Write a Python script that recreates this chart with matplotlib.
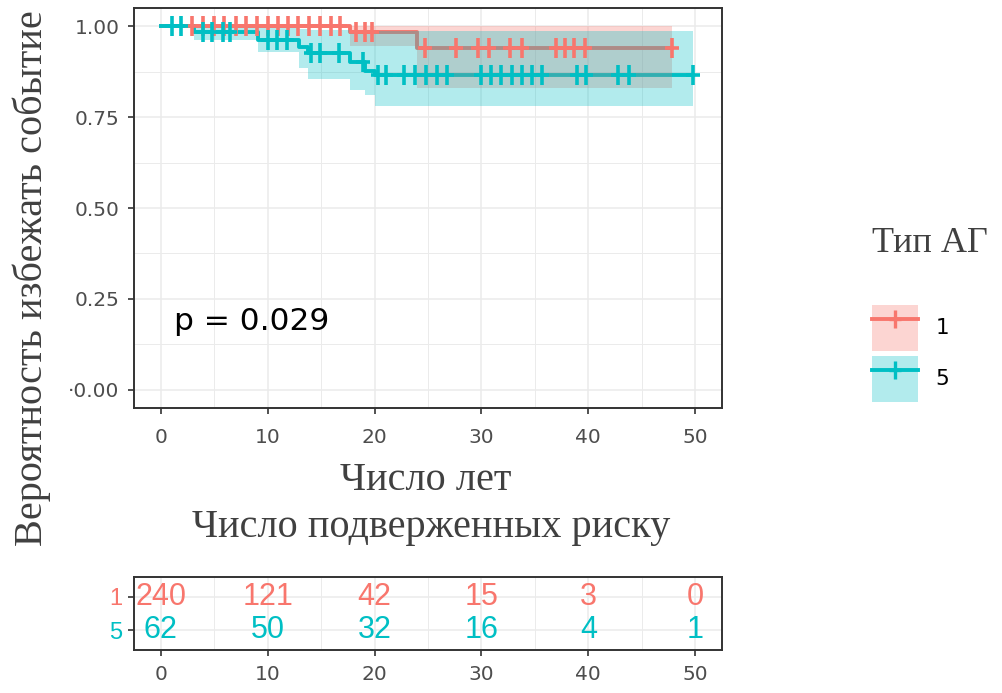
import matplotlib
matplotlib.use('Agg')
import matplotlib.pyplot as plt
from matplotlib.lines import Line2D
from matplotlib.patches import Patch
from matplotlib.path import Path
import numpy as np

# ---- data ----
# group "1"
t1 = [0, 17.7, 24.0, 47.8]
s1 = [1.0, 0.983, 0.940, 0.940]
lo1 = [1.0, 0.945, 0.83, 0.83]
hi1 = [1.0, 1.0, 1.0, 1.0]
cens1 = [2.9, 4.0, 5.0, 5.9, 7.0, 8.0, 9.0, 10.0, 11.0, 11.9, 12.8, 13.9, 14.9, 15.9, 16.8,
         18.3, 19.1, 19.8,
         24.7, 27.6, 29.7, 30.7, 32.7, 33.8, 37.0, 37.8, 38.7, 39.7, 47.8]

# group "5"
t5 = [0, 3.1, 9.1, 12.9, 13.8, 17.7, 19.1, 20.0, 49.8]
s5 = [1.0, 0.985, 0.962, 0.944, 0.925, 0.902, 0.876, 0.866, 0.866]
lo5 = [1.0, 0.962, 0.930, 0.884, 0.856, 0.825, 0.810, 0.780, 0.780]
hi5 = [1.0, 1.0, 0.997, 0.993, 0.990, 0.988, 0.986, 0.986, 0.986]
cens5 = [1.1, 1.9, 4.0, 4.8, 5.8, 6.5, 10.0, 10.9, 11.8, 14.1, 14.9, 16.7, 18.9,
         20.3, 21.1, 22.8, 23.8, 24.8, 25.8, 26.8, 30.0, 30.9, 31.8, 32.9, 33.8, 34.7,
         35.7, 38.9, 39.8, 42.8, 43.8, 49.8]

groups = ['1', '5']
risk_times = [0, 10, 20, 30, 40, 50]
risk1 = [240, 121, 42, 15, 3, 0]
risk5 = [62, 50, 32, 16, 4, 1]
p_text = 'p = 0.029'

RED = '#F8766D'
CYAN = '#00BFC4'
SERIF = 'Liberation Serif'
SANS = 'Liberation Sans'
TXT = '#4D4D4D'

plt.rcParams['font.family'] = ['DejaVu Sans']

plus = Path([(-0.7, 0), (0.7, 0), (0, -1), (0, 1)],
            [Path.MOVETO, Path.LINETO, Path.MOVETO, Path.LINETO])


def surv_at(times, surv, pts):
    idx = np.searchsorted(times, pts, side='right') - 1
    return np.asarray(surv)[idx]


def style_axes(ax):
    for sp in ax.spines.values():
        sp.set_color('#333333')
        sp.set_linewidth(1.4)
    ax.tick_params(direction='out', length=4.5, width=1.2, color='#333333',
                   labelcolor=TXT, labelsize=14.5)
    ax.grid(which='major', color='#EBEBEB', lw=1.1)
    ax.grid(which='minor', color='#EBEBEB', lw=0.7)
    ax.tick_params(which='minor', length=0)
    ax.set_axisbelow(True)


fig = plt.figure(figsize=(10.03, 6.93), dpi=100)
ax = fig.add_axes([134 / 1003, 1 - 408 / 693, 588 / 1003, 400 / 693])
axr = fig.add_axes([134 / 1003, 1 - 650 / 693, 588 / 1003, 73 / 693])

# curves
ax.step(t1, s1, where='post', color=RED, lw=2.8, zorder=2)
ax.step(t5, s5, where='post', color=CYAN, lw=2.8, zorder=2)
# confidence bands
ax.fill_between(t1, lo1, hi1, step='post', color=RED, alpha=0.3, lw=0, zorder=3)
ax.fill_between(t5, lo5, hi5, step='post', color=CYAN, alpha=0.3, lw=0, zorder=3)
# censor marks
ax.plot(cens1, surv_at(t1, s1, cens1), ls='none', marker=plus, ms=14, mew=2.6,
        color=RED, zorder=4)
ax.plot(cens5, surv_at(t5, s5, cens5), ls='none', marker=plus, ms=14, mew=2.6,
        color=CYAN, zorder=4)

ax.set_xlim(-2.5, 52.5)
ax.set_ylim(-0.05, 1.05)
ax.set_xticks(np.arange(0, 51, 10))
ax.set_xticks(np.arange(5, 50, 10), minor=True)
ax.set_yticks([0, 0.25, 0.5, 0.75, 1.0])
ax.set_yticklabels(['·0.00', '0.25', '0.50', '0.75', '1.00'])
ax.set_yticks([0.125, 0.375, 0.625, 0.875], minor=True)
style_axes(ax)
ax.tick_params(axis='x', pad=10)
ax.tick_params(axis='y', pad=6)

ax.text(1.2, 0.188, p_text, fontsize=22.5, color='black', va='center', ha='left')

# risk table
for y, vals, col in [(2, risk1, RED), (1, risk5, CYAN)]:
    for x, v in zip(risk_times, vals):
        axr.text(x, y, str(v), color=col, fontsize=22, family=SANS,
                 ha='center', va='center')
axr.set_xlim(-2.5, 52.5)
axr.set_ylim(0.4, 2.6)
axr.set_xticks(risk_times)
axr.set_xticks(np.arange(5, 50, 10), minor=True)
axr.set_yticks([2, 1])
axr.set_yticklabels(groups)
style_axes(axr)
axr.tick_params(axis='x', pad=6)
axr.tick_params(axis='y', pad=4, labelsize=17)
for lab, col in zip(axr.get_yticklabels(), [RED, CYAN]):
    lab.set_color(col)
    lab.set_family(SANS)

# labels
fig.text(32 / 1003, 1 - 278 / 693, 'Вероятность избежать событие', rotation=90,
         family=SERIF, fontsize=29, color='#404040', ha='center', va='center')
fig.text(426 / 1003, 1 - 481 / 693, 'Число лет', family=SERIF, fontsize=29,
         color='#404040', ha='center', va='center')
fig.text(431 / 1003, 1 - 527 / 693, 'Число подверженных риску', family=SERIF,
         fontsize=29, color='#404040', ha='center', va='center')
fig.text(872 / 1003, 1 - 243 / 693, 'Тип АГ', family=SERIF, fontsize=26,
         color='#404040', ha='left', va='center')

handles = [(Patch(facecolor=RED, alpha=0.3, lw=0),
            Line2D([], [], color=RED, lw=2.8, marker=plus, ms=13, mew=2.4)),
           (Patch(facecolor=CYAN, alpha=0.3, lw=0),
            Line2D([], [], color=CYAN, lw=2.8, marker=plus, ms=13, mew=2.4))]
leg = fig.legend(handles, groups, loc='upper left',
                 bbox_to_anchor=(872 / 1003, 1 - 305 / 693),
                 frameon=False, fontsize=14, handlelength=2.37, handleheight=3.26,
                 handletextpad=0.9, labelspacing=0.26, borderpad=0, borderaxespad=0)
for txt in leg.get_texts():
    txt.set_fontsize(15.5)

fig.savefig('out.png', dpi=100)
